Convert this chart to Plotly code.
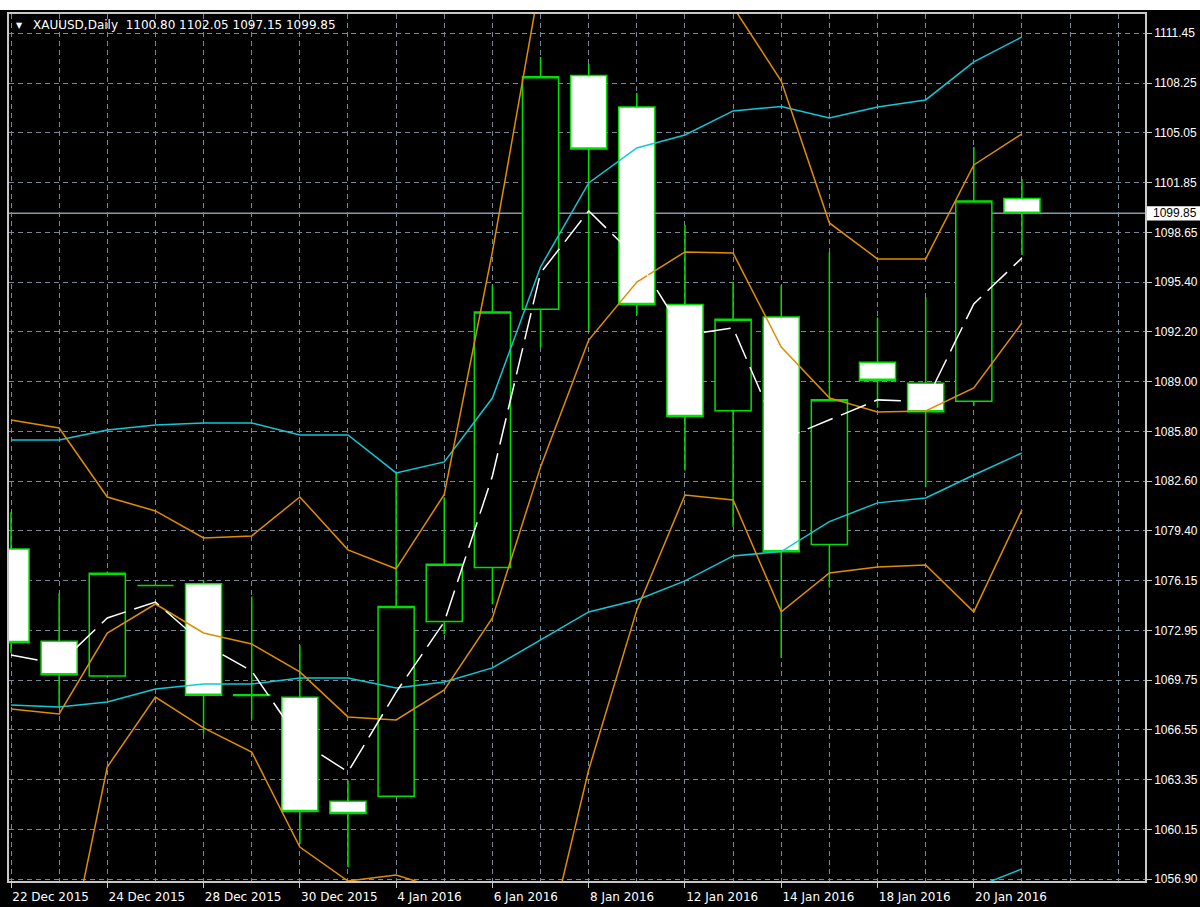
import plotly.graph_objects as go

# ---------------- data ----------------
dates = ["22 Dec 2015", "23 Dec 2015", "24 Dec 2015", "25 Dec 2015", "28 Dec 2015",
         "29 Dec 2015", "30 Dec 2015", "31 Dec 2015", "4 Jan 2016", "5 Jan 2016",
         "6 Jan 2016", "7 Jan 2016", "8 Jan 2016", "11 Jan 2016", "12 Jan 2016",
         "13 Jan 2016", "14 Jan 2016", "15 Jan 2016", "18 Jan 2016", "19 Jan 2016",
         "20 Jan 2016", "21 Jan 2016"]

opens = [1078.19, 1072.25, 1070.01, 1075.85, 1075.95, 1068.80, 1068.63, 1061.93,
         1062.26, 1073.52, 1077.01, 1093.65, 1108.72, 1106.70, 1093.96, 1087.11,
         1093.16, 1078.49, 1090.23, 1088.89, 1087.73, 1100.80]
highs = [1080.56, 1075.35, 1076.75, 1075.90, 1076.21, 1075.13, 1071.99, 1063.27,
         1083.19, 1081.53, 1095.20, 1109.91, 1109.46, 1107.60, 1099.08, 1095.42,
         1095.18, 1097.32, 1093.12, 1094.45, 1104.12, 1102.05]
lows = [1071.50, 1067.96, 1069.90, 1075.80, 1066.28, 1067.21, 1059.18, 1057.67,
        1062.20, 1072.70, 1074.64, 1091.22, 1092.30, 1093.27, 1083.25, 1079.63,
        1071.17, 1075.71, 1087.30, 1082.17, 1087.45, 1097.15]
closes = [1072.16, 1070.09, 1076.64, 1075.85, 1068.76, 1068.75, 1061.27, 1061.14,
          1074.49, 1077.22, 1093.48, 1108.64, 1103.99, 1093.96, 1086.74, 1093.01,
          1078.02, 1087.82, 1089.07, 1087.04, 1100.63, 1099.85]

cyan_upper = [1085.23, 1085.23, 1085.87, 1086.19, 1086.32, 1086.32, 1085.55, 1085.55,
              1083.10, 1083.81, 1087.93, 1096.38, 1101.80, 1104.05, 1104.89, 1106.44,
              1106.73, 1105.99, 1106.70, 1107.15, 1109.60, 1111.21]
cyan_middle = [1068.13, 1068.01, 1068.33, 1069.17, 1069.49, 1069.49, 1069.88, 1069.88,
               1069.24, 1069.62, 1070.53, 1072.33, 1074.14, 1074.91, 1076.14, 1077.75,
               1078.03, 1079.96, 1081.17, 1081.49, 1082.97, 1084.39]
cyan_lower = [1051.03, 1050.79, 1050.79, 1052.15, 1052.66, 1052.66, 1054.21, 1054.21,
              1055.38, 1055.43, 1053.13, 1048.28, 1046.48, 1045.77, 1047.39, 1049.06,
              1049.33, 1053.93, 1055.64, 1055.83, 1056.34, 1057.57]

orange_upper = [1086.52, 1086.00, 1081.55, 1080.65, 1078.91, 1079.04, 1081.55, 1078.14,
                1076.92, 1081.71, 1097.35, 1114.95, 1119.40, 1116.56, 1113.02, 1113.15,
                1108.37, 1099.22, 1096.90, 1096.90, 1102.96, 1104.96]
orange_middle = [1067.88, 1067.56, 1072.78, 1074.65, 1072.78, 1072.07, 1070.27, 1067.37,
                 1067.17, 1069.11, 1073.75, 1083.49, 1091.67, 1095.41, 1097.35, 1097.28,
                 1091.22, 1087.94, 1087.03, 1087.10, 1088.58, 1092.77]
orange_lower = [1049.25, 1049.12, 1064.14, 1068.65, 1066.66, 1065.11, 1058.98, 1056.79,
                1057.18, 1056.20, 1050.15, 1050.91, 1063.95, 1074.27, 1081.68, 1081.36,
                1074.14, 1076.65, 1077.04, 1077.17, 1074.14, 1080.72]

white_ma = [1071.36, 1070.78, 1073.75, 1074.78, 1072.07, 1070.33, 1065.82, 1063.82,
            1068.97, 1073.49, 1082.90, 1095.99, 1099.99, 1096.96, 1092.00, 1092.45,
            1085.23, 1086.52, 1087.81, 1087.68, 1094.00, 1096.96]

ytick_labels = ["1111.45", "1108.25", "1105.05", "1101.85", "1098.65", "1095.40",
                "1092.20", "1089.00", "1085.80", "1082.60", "1079.40", "1076.15",
                "1072.95", "1069.75", "1066.55", "1063.35", "1060.15", "1056.90"]

symbol_title = "XAUUSD,Daily"
last_ohlc = ["1100.80", "1102.05", "1097.15", "1099.85"]
current_price = 1099.85

# ---------------- styling ----------------
LIME = "#00E000"
CYAN = "#12C8D6"
ORANGE = "#E08E00"
GRID = "#778899"
FRAME = "#C8C8C8"
FONT = "DejaVu Sans"
AXFONT = "Liberation Sans"

idx = list(range(len(dates)))
n_grid = len(dates) + 2

y_hi = float(ytick_labels[0])
y_lo = float(ytick_labels[-1])
step = (y_hi - y_lo) / (len(ytick_labels) - 1)
ytick_vals = [y_hi - k * step for k in range(len(ytick_labels))]

fig = go.Figure()

fig.add_trace(go.Candlestick(
    x=idx, open=opens, high=highs, low=lows, close=closes,
    increasing=dict(line=dict(color=LIME, width=1.5), fillcolor="black"),
    decreasing=dict(line=dict(color=LIME, width=1.5), fillcolor="white"),
    whiskerwidth=0, hoverinfo="skip", showlegend=False))

for series, color, dash in [
    (cyan_upper, CYAN, "solid"),
    (cyan_middle, CYAN, "solid"),
    (cyan_lower, CYAN, "solid"),
    (orange_upper, ORANGE, "solid"),
    (orange_middle, ORANGE, "solid"),
    (orange_lower, ORANGE, "solid"),
    (white_ma, "#FFFFFF", "27px,9px"),
]:
    fig.add_trace(go.Scatter(x=idx, y=series, mode="lines",
                             line=dict(color=color, width=1.5, dash=dash),
                             hoverinfo="skip", showlegend=False))

PLOT_W = 1200 - 9 - 55
PLOT_H = 907 - 14 - 26

fig.update_layout(
    width=1200, height=907,
    margin=dict(l=9, r=55, t=14, b=26, autoexpand=False),
    paper_bgcolor="black", plot_bgcolor="black",
    boxgap=0.25, boxgroupgap=0,
    showlegend=False,
    font=dict(family=FONT, size=12, color="white"),
    shapes=[
        dict(type="line", xref="paper", x0=0, x1=1, yref="y",
             y0=current_price, y1=current_price,
             line=dict(color="#8A96A6", width=1.5), layer="between"),
        dict(type="rect", xref="paper", x0=-0.02, x1=1.06, yref="paper",
             y0=1 + 4 / PLOT_H, y1=1 + 16 / PLOT_H,
             fillcolor="white", line=dict(width=0), layer="above"),
        dict(type="rect", xref="paper", x0=1 + 2 / PLOT_W, x1=1 + 60 / PLOT_W,
             yref="y", y0=current_price - 0.48, y1=current_price + 0.45,
             fillcolor="white", line=dict(width=0), layer="above"),
    ],
    annotations=[
        dict(text="\u25BC", xref="paper", yref="paper", x=0, y=1,
             xanchor="left", yanchor="middle", xshift=5, yshift=-11,
             showarrow=False, font=dict(family=FONT, size=8, color="white")),
        dict(text=symbol_title + "\u00a0\u00a0" + " ".join(last_ohlc),
             xref="paper", yref="paper", x=0, y=1,
             xanchor="left", yanchor="middle", xshift=22, yshift=-11,
             showarrow=False, font=dict(family=FONT, size=12, color="white")),
        dict(text=f"{current_price:.2f}", xref="paper", yref="y", x=1,
             y=current_price, xanchor="left", yanchor="middle", xshift=6,
             showarrow=False, font=dict(family=AXFONT, size=12, color="black")),
    ],
)

fig.update_xaxes(
    type="linear", range=[-0.0415, -0.0415 + PLOT_W / 48.14],
    tickmode="array", tickvals=idx[::2], ticktext=dates[::2],
    ticks="outside", ticklen=5, tickcolor=FRAME, tickwidth=1,
    ticklabelposition="outside right", ticklabelstandoff=4,
    tickfont=dict(family=FONT, size=12, color="white"),
    showgrid=True, gridcolor=GRID, gridwidth=1, griddash="5px,4px",
    minor=dict(tickmode="array", tickvals=list(range(n_grid)), showgrid=True,
               gridcolor=GRID, gridwidth=1, griddash="5px,4px", ticks=""),
    showline=True, linecolor=FRAME, linewidth=1.5, mirror=True,
    zeroline=False, rangeslider=dict(visible=False), automargin=False,
)
fig.update_yaxes(
    side="right", range=[1056.79, 1112.69],
    tickmode="array", tickvals=ytick_vals, ticktext=ytick_labels,
    ticks="outside", ticklen=5, tickcolor=FRAME, tickwidth=1,
    tickfont=dict(family=AXFONT, size=12, color="white"),
    showgrid=True, gridcolor=GRID, gridwidth=1, griddash="5px,4px",
    showline=True, linecolor=FRAME, linewidth=1.5, mirror=True,
    zeroline=False, automargin=False,
)

fig.write_html(
    "out.html",
    config={"displayModeBar": False},
    post_script="document.body.style.margin='0';document.body.style.overflow='hidden';",
)
